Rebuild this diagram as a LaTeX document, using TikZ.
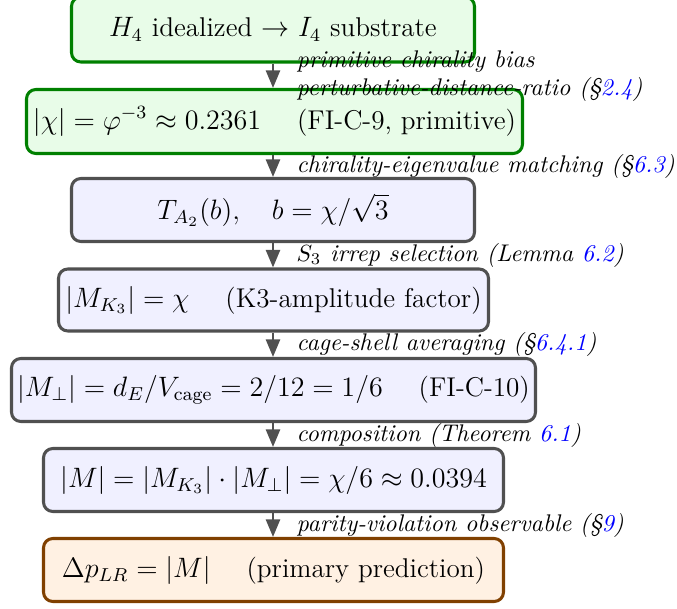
\documentclass[tikz,border=0pt]{standalone}
\usepackage{amsmath}
\usetikzlibrary{arrows.meta}
\definecolor{gborder}{RGB}{0,128,0}
\definecolor{gfill}{RGB}{232,252,232}
\definecolor{bborder}{RGB}{80,80,80}
\definecolor{bfill}{RGB}{240,240,255}
\definecolor{oborder}{RGB}{128,64,0}
\definecolor{ofill}{RGB}{255,241,227}
\newcommand{\pxu}{0.4274pt}
\tikzset{
  box/.style={rounded corners=4pt, line width=1.3pt, font=\fontsize{11.6pt}{14pt}\selectfont, inner sep=2pt, minimum height=27pt, align=center},
  gbox/.style={box, draw=gborder, fill=gfill},
  bbox/.style={box, draw=bborder, fill=bfill},
  obox/.style={box, draw=oborder, fill=ofill},
  arr/.style={draw=bborder, line width=1pt, -{Triangle[length=7.5pt,width=6pt]}},
  lbl/.style={anchor=west, inner sep=0pt, font=\fontsize{10.3pt}{12pt}\selectfont\itshape, align=left, xshift=9.6pt}
}
\begin{document}
\begin{tikzpicture}[x=\pxu,y=-\pxu]
\useasboundingbox (0,0) rectangle (677,609);
\node[gbox, minimum width=403*\pxu, minimum height=65*\pxu] (b1) at (273,29.5) {$H_4$ idealized $\to$ $I_4$ substrate};
\node[gbox, minimum width=496*\pxu, minimum height=64*\pxu] (b2) at (274.5,121.5) {$|\chi| = \varphi^{-3} \approx 0.2361$\quad{} (FI-C-9, primitive)};
\node[bbox, minimum width=403*\pxu, minimum height=63*\pxu] (b3) at (273,210) {$T_{A_2}(b),\quad b = \chi/\sqrt{3}$};
\node[bbox, minimum width=430*\pxu, minimum height=62*\pxu] (b4) at (273.5,300) {$|M_{K_3}| = \chi$\quad{} (K3-amplitude factor)};
\node[bbox, minimum width=524*\pxu, minimum height=63*\pxu] (b5) at (273.5,390) {$|M_\perp| = d_E/V_{\mathrm{cage}} = 2/12 = 1/6$\quad{} (FI-C-10)};
\node[bbox, minimum width=460*\pxu, minimum height=63*\pxu] (b6) at (273.5,480) {$|M| = |M_{K_3}|\cdot|M_\perp| = \chi/6 \approx 0.0394$};
\node[obox, minimum width=460*\pxu, minimum height=63*\pxu] (b7) at (273.5,570) {$\Delta p_{LR} = |M|$\quad{} (primary prediction)};
\draw[arr] (b1.south) -- (b1.south |- b2.north) node[lbl, midway] {primitive chirality bias\\perturbative-distance-ratio (\S\textcolor{blue}{2.4})};
\draw[arr] (b1.south |- b2.south) -- (b1.south |- b3.north) node[lbl, midway] {chirality-eigenvalue matching (\S\textcolor{blue}{6.3})};
\draw[arr] (b3.south) -- (b3.south |- b4.north) node[lbl, midway] {$S_3$ irrep selection (Lemma \textcolor{blue}{6.2})};
\draw[arr] (b3.south |- b4.south) -- (b3.south |- b5.north) node[lbl, midway] {cage-shell averaging (\S\textcolor{blue}{6.4.1})};
\draw[arr] (b3.south |- b5.south) -- (b3.south |- b6.north) node[lbl, midway] {composition (Theorem \textcolor{blue}{6.1})};
\draw[arr] (b3.south |- b6.south) -- (b3.south |- b7.north) node[lbl, midway] {parity-violation observable (\S\textcolor{blue}{9})};
\end{tikzpicture}
\end{document}
